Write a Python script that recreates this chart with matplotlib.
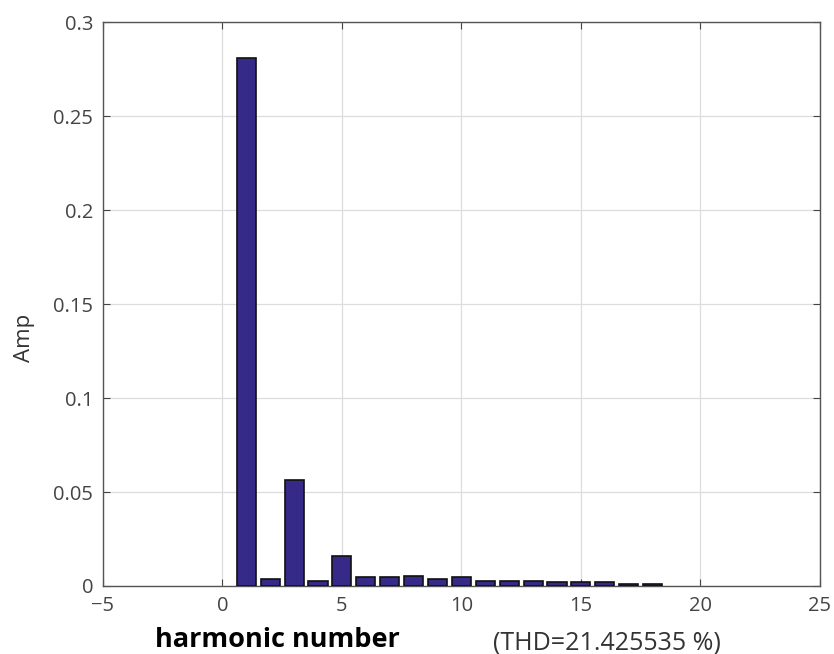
import matplotlib.pyplot as plt
import numpy as np

plt.rcParams["font.family"] = ["Open Sans", "DejaVu Sans"]

harmonics = np.arange(1, 19)
amps = [0.281, 0.0036, 0.0564, 0.0027, 0.016, 0.0046, 0.0046, 0.0055, 0.0036,
        0.0048, 0.0029, 0.0029, 0.0029, 0.0020, 0.0020, 0.0020, 0.0011, 0.0011]
thd = 21.425535

fig = plt.figure(figsize=(8.34, 6.54), dpi=100)
ax = fig.add_axes([0.1235, 0.104, 0.8595, 0.862])

ax.bar(harmonics, amps, width=0.8, color="#352a87", edgecolor="#111111",
       linewidth=1.2, zorder=3)

ax.set_xlim(-5, 25)
ax.set_ylim(0, 0.3)
ax.set_xticks(np.arange(-5, 26, 5))
ax.set_yticks([0, 0.05, 0.1, 0.15, 0.2, 0.25, 0.3])
ax.set_yticklabels(["0", "0.05", "0.1", "0.15", "0.2", "0.25", "0.3"])
ax.grid(True, color="#dddddd", linewidth=0.9, zorder=0)
ax.tick_params(direction="in", top=True, right=True, length=5,
               colors="#444444", labelsize=14.5)
ax.tick_params(axis="x", pad=7)
ax.tick_params(axis="y", pad=7)
for spine in ax.spines.values():
    spine.set_color("#555555")
    spine.set_linewidth(1.0)

# labels placed by hand like the original figure
ax.text(-0.109, 0.44, "Amp", transform=ax.transAxes, rotation=90,
        fontsize=16, color="#333333", ha="center", va="center")
ax.text(0.072, -0.109, "harmonic number", transform=ax.transAxes,
        fontsize=19.5, fontweight="bold", color="black", va="baseline", ha="left")
ax.text(0.544, -0.112, f"(THD={thd:f} %)", transform=ax.transAxes,
        fontsize=18, color="#333333", va="baseline", ha="left")

fig.savefig("out.png", dpi=100)
